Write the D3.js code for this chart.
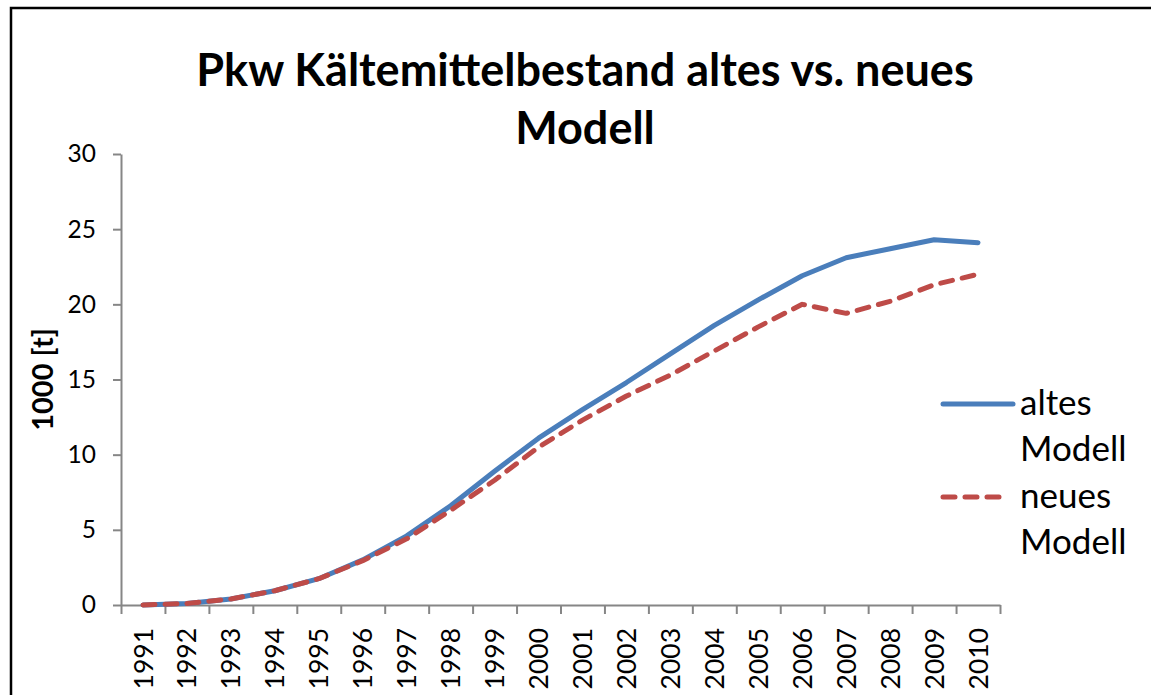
<!DOCTYPE html>
<html>
<head>
<meta charset="utf-8">
<script src="https://cdn.jsdelivr.net/npm/d3@7"></script>
<style>
    body { margin: 0; background: #fff; }
    svg { display: block; font-family: Lato, "Open Sans", sans-serif; }
</style>
</head>
<body>
<div id="line-chart"></div>
<script>
// Chart data (1000 t)
const years = ["1991", "1992", "1993", "1994", "1995", "1996", "1997", "1998", "1999", "2000",
               "2001", "2002", "2003", "2004", "2005", "2006", "2007", "2008", "2009", "2010"];
const altesModell = [0, 0.1, 0.4, 0.95, 1.75, 3.0, 4.6, 6.6, 8.9, 11.1,
                     13.0, 14.8, 16.7, 18.6, 20.3, 21.9, 23.1, 23.7, 24.3, 24.1];
const neuesModell = [0, 0.1, 0.4, 0.95, 1.75, 2.95, 4.4, 6.3, 8.3, 10.5,
                     12.3, 13.9, 15.3, 16.9, 18.5, 20.0, 19.4, 20.2, 21.3, 22.0];
const yTicks = [0, 5, 10, 15, 20, 25, 30];
const seriesNames = ["altes Modell", "neues Modell"];
const titleLines = ["Pkw Kältemittelbestand altes vs. neues", "Modell"];
const yTitle = "1000 [t]";

function createLineChart() {
    const margin = { top: 154, right: 151, bottom: 90, left: 121 };
    const width = 1151 - margin.left - margin.right;
    const height = 695 - margin.top - margin.bottom;
    const axisColor = "#868686";

    const root = d3.select("#line-chart")
        .html("")
        .append("svg")
        .attr("width", 1151)
        .attr("height", 695);

    // Chart area border (only top and left are inside the window)
    root.append("rect")
        .attr("x", 11)
        .attr("y", 8)
        .attr("width", 1300)
        .attr("height", 900)
        .attr("fill", "none")
        .attr("stroke", "#000")
        .attr("stroke-width", 2.5);

    // Title, two lines
    root.append("text")
        .attr("x", 585)
        .attr("y", 86)
        .style("text-anchor", "middle")
        .style("font-weight", "bold")
        .style("font-size", "45px")
        .selectAll("tspan")
        .data(titleLines)
        .enter()
        .append("tspan")
        .attr("x", 585)
        .attr("dy", (d, i) => i === 0 ? 0 : 58)
        .text(d => d);

    const svg = root.append("g")
        .attr("transform", `translate(${margin.left},${margin.top})`);

    const xScale = d3.scaleBand()
        .domain(years)
        .range([0, width]);

    // tick marks sit between the categories
    const xEdge = d3.scaleLinear()
        .domain([0, years.length])
        .range([0, width]);

    const yScale = d3.scaleLinear()
        .domain([0, 30])
        .range([height, 0]);

    // Y axis
    const yAxis = svg.append("g")
        .attr("class", "y-axis")
        .call(d3.axisLeft(yScale).tickValues(yTicks).tickSize(8).tickSizeOuter(0).tickPadding(17))
        .attr("font-family", null);

    // X axis ticks
    svg.append("g")
        .attr("class", "x-axis")
        .attr("transform", `translate(0,${height})`)
        .call(d3.axisBottom(xEdge).tickValues(d3.range(years.length + 1)).tickSize(9).tickSizeOuter(0).tickFormat(""));

    // X axis labels (rotated)
    const xLabels = svg.append("g")
        .attr("class", "x-labels")
        .attr("transform", `translate(0,${height})`)
        .call(d3.axisBottom(xScale).tickSize(0))
        .attr("font-family", null);
    xLabels.select(".domain").remove();
    xLabels.selectAll("text")
        .attr("transform", "rotate(-90)")
        .attr("x", -23)
        .attr("y", 0)
        .attr("dy", "0.36em")
        .style("text-anchor", "end")
        .style("font-size", "26.5px")
        .style("fill", "#000");

    svg.selectAll(".y-axis, .x-axis").selectAll(".domain, line")
        .attr("stroke", axisColor)
        .attr("stroke-width", 2);
    yAxis.selectAll("text")
        .style("font-size", "24.5px")
        .style("fill", "#000");

    // Y-axis title
    root.append("text")
        .attr("transform", `translate(53,${margin.top + height / 2}) rotate(-90)`)
        .style("text-anchor", "middle")
        .style("font-weight", "bold")
        .style("font-size", "29px")
        .text(yTitle);

    // Lines
    const line = d3.line()
        .x((d, i) => xScale(years[i]) + xScale.bandwidth() / 2)
        .y(d => yScale(d));

    const series = [
        { name: seriesNames[0], values: altesModell, color: "#4a7ebb", dash: null },
        { name: seriesNames[1], values: neuesModell, color: "#be4b48", dash: "12,10" }
    ];

    svg.selectAll(".series")
        .data(series)
        .enter()
        .append("path")
        .attr("class", "series")
        .attr("d", d => line(d.values))
        .attr("fill", "none")
        .attr("stroke", d => d.color)
        .attr("stroke-width", 5)
        .attr("stroke-linecap", "round")
        .attr("stroke-linejoin", "round")
        .attr("stroke-dasharray", d => d.dash);

    // Legend
    const legend = root.append("g")
        .attr("transform", "translate(943,404)");

    const items = legend.selectAll(".legend-item")
        .data(series)
        .enter()
        .append("g")
        .attr("class", "legend-item")
        .attr("transform", (d, i) => `translate(0,${i * 93})`);

    items.append("line")
        .attr("x1", 0)
        .attr("x2", d => d.dash ? 61 : 70)
        .attr("y1", 0)
        .attr("y2", 0)
        .attr("stroke", d => d.color)
        .attr("stroke-width", 5)
        .attr("stroke-linecap", "round")
        .attr("stroke-dasharray", d => d.dash);

    items.append("text")
        .attr("x", 77)
        .attr("y", 11)
        .style("font-size", "35px")
        .selectAll("tspan")
        .data(d => d.name.split(" "))
        .enter()
        .append("tspan")
        .attr("x", 77)
        .attr("dy", (d, i) => i === 0 ? 0 : 46)
        .text(d => d);
}

createLineChart();
</script>
</body>
</html>
